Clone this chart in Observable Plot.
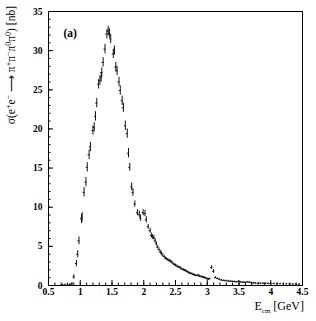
<!DOCTYPE html>
<html>
<head>
<meta charset="utf-8">
<script src="https://cdn.jsdelivr.net/npm/d3@7"></script>
<script src="https://cdn.jsdelivr.net/npm/@observablehq/plot@0.6"></script>
<style>
  html, body { margin: 0; padding: 0; background: #fff; }
  #chart { width: 316px; height: 321px; }
  #chart svg text { font-family: "Liberation Serif", "Times New Roman", serif; }
</style>
</head>
<body>
<div id="chart"></div>
<script>
// Data
const energy = [
  0.72, 0.76, 0.80, 0.84, 0.87,
  0.90, 0.94, 0.96, 0.98, 1.02, 1.03, 1.06, 1.09, 1.11, 1.14,
  1.16, 1.20, 1.22, 1.24, 1.26, 1.29, 1.31, 1.33, 1.34, 1.36,
  1.39, 1.42, 1.44, 1.46, 1.48, 1.52, 1.54, 1.56, 1.58, 1.61,
  1.63, 1.66, 1.68, 1.71, 1.74, 1.76, 1.78, 1.81, 1.83, 1.86,
  1.90, 1.93, 1.95, 1.99, 2.02, 2.04, 2.07, 2.10, 2.12, 2.14,
  2.16, 2.18, 2.20, 2.22, 2.24, 2.26, 2.28, 2.30, 2.32, 2.34,
  2.36, 2.38, 2.40, 2.42, 2.44, 2.46, 2.48, 2.50, 2.52, 2.54,
  2.56, 2.58, 2.60, 2.62, 2.64, 2.66, 2.68, 2.70, 2.72, 2.74,
  2.76, 2.78, 2.80, 2.82, 2.84, 2.86, 2.88, 2.90, 2.92, 2.94,
  2.96, 2.98, 3.00, 3.02, 3.04, 3.07, 3.10, 3.13, 3.16, 3.19,
  3.22, 3.25, 3.28, 3.31, 3.34, 3.37, 3.40, 3.43, 3.46, 3.49,
  3.52, 3.55, 3.58, 3.61, 3.64, 3.67, 3.70, 3.73, 3.76, 3.80,
  3.84, 3.88, 3.92, 3.96, 4.00, 4.05, 4.10, 4.15, 4.20, 4.25,
  4.30, 4.35, 4.40, 4.45
];
const sigma = [
  0.05, 0.08, 0.05, 0.1, 0.2,
  1.1, 2.8, 4.0, 5.7, 8.5, 8.7, 11.9, 13.2, 15.1, 16.7,
  17.7, 19.8, 20.2, 21.6, 23.3, 25.7, 26.2, 26.6, 27.2, 28.5,
  30.2, 32.1, 32.5, 32.2, 31.5, 29.6, 30.0, 27.9, 27.4, 26.0,
  24.9, 23.6, 22.7, 20.4, 19.4, 16.9, 15.1, 12.6, 11.9, 10.4,
  9.3, 9.1, 8.6, 9.3, 9.2, 8.4, 7.5, 7.0, 6.4, 6.2,
  6.1, 5.7, 5.3, 4.9, 4.6, 4.3, 4.1, 3.9, 3.7, 3.5,
  3.4, 3.3, 3.2, 3.1, 3.0, 2.85, 2.7, 2.6, 2.5, 2.4,
  2.3, 2.25, 2.1, 2.05, 1.95, 1.9, 1.8, 1.7, 1.6, 1.55,
  1.5, 1.4, 1.35, 1.3, 1.25, 1.3, 1.2, 1.15, 1.1, 1.05,
  1.0, 0.95, 0.85, 0.8, 0.85, 2.3, 1.8, 1.0, 0.9, 0.8,
  0.7, 0.65, 0.6, 0.6, 0.55, 0.55, 0.5, 0.5, 0.45, 0.5,
  0.45, 0.42, 0.4, 0.4, 0.45, 0.4, 0.35, 0.32, 0.3, 0.3,
  0.28, 0.28, 0.27, 0.25, 0.25, 0.24, 0.22, 0.22, 0.2, 0.2,
  0.18, 0.18, 0.17, 0.16
];
const sigmaErr = [
  0.1, 0.1, 0.1, 0.15, 0.2,
  0.3, 0.4, 0.45, 0.5, 0.6, 0.6, 0.6, 0.6, 0.6, 0.6,
  0.6, 0.6, 0.6, 0.6, 0.6, 0.6, 0.6, 0.6, 0.6, 0.6,
  0.6, 0.6, 0.6, 0.6, 0.6, 0.6, 0.6, 0.6, 0.6, 0.6,
  0.6, 0.6, 0.6, 0.6, 0.6, 0.6, 0.5, 0.5, 0.5, 0.4,
  0.4, 0.4, 0.4, 0.4, 0.4, 0.4, 0.3, 0.3, 0.3, 0.3,
  0.3, 0.3, 0.25, 0.2, 0.2, 0.2, 0.2, 0.15, 0.15, 0.15,
  0.15, 0.15, 0.15, 0.15, 0.15, 0.12, 0.12, 0.12, 0.12, 0.12,
  0.12, 0.12, 0.12, 0.12, 0.12, 0.12, 0.12, 0.1, 0.1, 0.1,
  0.1, 0.1, 0.1, 0.1, 0.1, 0.1, 0.1, 0.1, 0.1, 0.1,
  0.1, 0.1, 0.1, 0.1, 0.1, 0.25, 0.25, 0.12, 0.08, 0.08,
  0.08, 0.08, 0.08, 0.08, 0.08, 0.08, 0.08, 0.08, 0.08, 0.08,
  0.08, 0.08, 0.08, 0.08, 0.08, 0.08, 0.08, 0.08, 0.08, 0.08,
  0.08, 0.08, 0.08, 0.08, 0.08, 0.08, 0.08, 0.08, 0.08, 0.08,
  0.08, 0.08, 0.08, 0.08
];

const xMajor = [0.5, 1, 1.5, 2, 2.5, 3, 3.5, 4, 4.5];
const xMinor = d3.range(5, 46).map(d => d / 10);
const yMajor = [0, 5, 10, 15, 20, 25, 30, 35];
const yMinor = d3.range(0, 36);

const panelLabel = "(a)";

const data = energy.map((x, i) => ({x, y: sigma[i], e: sigmaErr[i]}));

// layout
const W = 316, H = 321;
const mL = 48, mR = 14, mT = 11, mB = 36;
const xDom = [0.5, 4.5], yDom = [0, 35];
const pxX = (W - mL - mR) / (xDom[1] - xDom[0]);
const pxY = (H - mT - mB) / (yDom[1] - yDom[0]);
const majLen = 5, minLen = 2.5, halfW = 1.0;

const serif = "Liberation Serif, Times New Roman, serif";

const chart = Plot.plot({
  width: W,
  height: H,
  marginLeft: mL,
  marginRight: mR,
  marginTop: mT,
  marginBottom: mB,
  style: {fontFamily: serif, color: "#000", background: "#fff", overflow: "visible"},
  x: {domain: xDom},
  y: {domain: yDom},
  marks: [
    Plot.frame({stroke: "#000", strokeWidth: 1}),
    // inward ticks on bottom
    Plot.ruleX(xMinor, {x: d => d, y1: yDom[0], y2: yDom[0] + minLen / pxY, stroke: "#000", strokeWidth: 1}),
    Plot.ruleX(xMajor, {x: d => d, y1: yDom[0], y2: yDom[0] + majLen / pxY, stroke: "#000", strokeWidth: 1}),
    // inward ticks on left
    Plot.ruleY(yMinor, {y: d => d, x1: xDom[0], x2: xDom[0] + minLen / pxX, stroke: "#000", strokeWidth: 1}),
    Plot.ruleY(yMajor, {y: d => d, x1: xDom[0], x2: xDom[0] + majLen / pxX, stroke: "#000", strokeWidth: 1}),
    Plot.axisX({ticks: xMajor, tickSize: 0, tickPadding: 3, tickFormat: d => String(d),
      fontSize: 9.5, fontWeight: "bold", fontFamily: serif, fill: "#000", label: null}),
    Plot.axisY({ticks: yMajor, tickSize: 0, tickPadding: 6, tickFormat: d => String(d),
      fontSize: 9.5, fontWeight: "bold", fontFamily: serif, fill: "#000", label: null}),
    // error bars
    Plot.ruleX(data, {x: "x", y1: d => d.y - d.e, y2: d => d.y + d.e, stroke: "#111", strokeWidth: 1}),
    Plot.ruleY(data, {y: "y", x1: d => d.x - halfW / pxX, x2: d => d.x + halfW / pxX, stroke: "#111", strokeWidth: 1}),
    Plot.text([panelLabel], {frameAnchor: "top-left", dx: 15, dy: 17, text: d => d,
      fontSize: 11.5, fontWeight: "bold", fontFamily: serif, textAnchor: "start", fill: "#000"})
  ]
});

document.getElementById("chart").appendChild(chart);

// Axis titles with sub/superscripts
const svg = d3.select(chart);
const yl = svg.append("text")
  .attr("transform", `translate(15,6) rotate(-90)`)
  .attr("text-anchor", "end")
  .attr("font-family", serif)
  .attr("font-size", 11.5)
  .attr("fill", "#000");
const parts = [
  ["σ(e", 0], ["+", 1], ["e", 0], ["−", 1], [" ⟶ π", 0], ["+", 1], ["π", 0], ["−", 1],
  ["π", 0], ["0", 1], ["π", 0], ["0", 1], [") [nb]", 0]
];
let prevSup = false;
for (const [t, sup] of parts) {
  const ts = yl.append("tspan").text(t);
  if (sup && !prevSup) { ts.attr("dy", -4).attr("font-size", 8); }
  else if (sup) { ts.attr("font-size", 8); }
  else if (!sup && prevSup) { ts.attr("dy", 4); }
  prevSup = !!sup;
}

const xl = svg.append("text")
  .attr("x", W - 12)
  .attr("y", H - 11)
  .attr("text-anchor", "end")
  .attr("font-family", serif)
  .attr("font-size", 12)
  .attr("fill", "#000");
xl.append("tspan").text("E");
xl.append("tspan").text("cm").attr("font-size", 7).attr("dy", 2.5);
xl.append("tspan").text(" [GeV]").attr("dy", -2.5);
</script>
</body>
</html>
